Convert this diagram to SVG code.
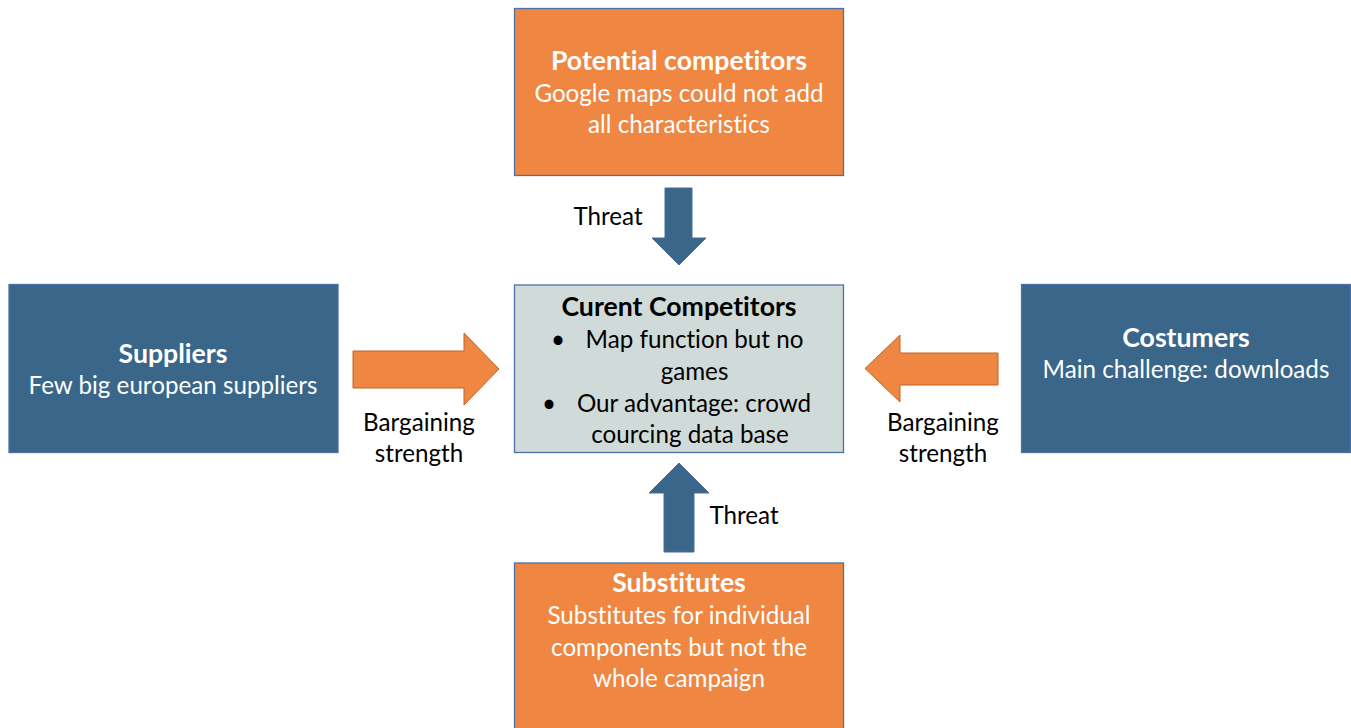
<svg xmlns="http://www.w3.org/2000/svg" width="1351" height="728" viewBox="0 0 1351 728">
<style>
.box{stroke:#4F6FA8;stroke-width:1.3}
.orange{fill:#EF8641}
.blue{fill:#3A6689}
.gray{fill:#D0DAD8}
.arrO{fill:#EF8641;stroke:#C0652A;stroke-width:1}
.arrB{fill:#3A6689;stroke:#4B6A95;stroke-width:1}
text{font-family:Lato,"Open Sans","Liberation Sans",sans-serif;font-size:24.2px;font-variant-ligatures:none}
.w{fill:#FFFFFF}
.k{fill:#000000}
.b{font-weight:bold;font-size:26.67px}
.c{text-anchor:middle}
</style>
<rect width="1351" height="728" fill="#FFFFFF"/>
<g id="connectors">
<g id="threat-top">
<polygon class="arrB" points="665,188 692,188 692,238 706,238 679,265 652,238 665,238"/>
<text class="k c" x="608" y="225">Threat</text>
</g>
<g id="threat-bottom">
<polygon class="arrB" points="679,463 709,493 694,493 694,552 664,552 664,493 649,493"/>
<text class="k c" x="744" y="524">Threat</text>
</g>
<g id="bargain-left">
<polygon class="arrO" points="353,351 464,351 464,333 499,369 464,405 464,388 353,388"/>
<text class="k c" x="419" y="431">Bargaining</text>
<text class="k c" x="419" y="462">strength</text>
</g>
<g id="bargain-right">
<polygon class="arrO" points="865,368.5 900,335 900,353 998,353 998,385 900,385 900,402"/>
<text class="k c" x="943" y="431">Bargaining</text>
<text class="k c" x="943" y="462">strength</text>
</g>
</g>
<g id="potential">
<rect class="box orange" x="514.5" y="8.5" width="329" height="167"/>
<text class="w c b" x="679" y="70">Potential competitors</text>
<text class="w c" x="679" y="102">Google maps could not add</text>
<text class="w c" x="679" y="133">all characteristics</text>
</g>
<g id="current">
<rect class="box gray" x="514.5" y="285" width="329" height="167.5"/>
<text class="k c b" x="679" y="316">Curent Competitors</text>
<text class="k c" x="558" y="348">•</text>
<text class="k c" x="694.5" y="348">Map function but no</text>
<text class="k c" x="694.5" y="380">games</text>
<text class="k c" x="549" y="412">•</text>
<text class="k c" x="694" y="412">Our advantage: crowd</text>
<text class="k c" x="690" y="443">courcing data base</text>
</g>
<g id="suppliers">
<rect class="box blue" x="9" y="284.5" width="329" height="168"/>
<text class="w c b" x="173" y="363">Suppliers</text>
<text class="w c" x="173" y="394">Few big european suppliers</text>
</g>
<g id="costumers">
<rect class="box blue" x="1021.5" y="284.5" width="329" height="168"/>
<text class="w c b" x="1186" y="347">Costumers</text>
<text class="w c" x="1186" y="378">Main challenge: downloads</text>
</g>
<g id="substitutes">
<rect class="box orange" x="514.5" y="563" width="329" height="200"/>
<text class="w c b" x="679" y="592">Substitutes</text>
<text class="w c" x="679" y="624">Substitutes for individual</text>
<text class="w c" x="679" y="656">components but not the</text>
<text class="w c" x="679" y="687">whole campaign</text>
</g>
</svg>
